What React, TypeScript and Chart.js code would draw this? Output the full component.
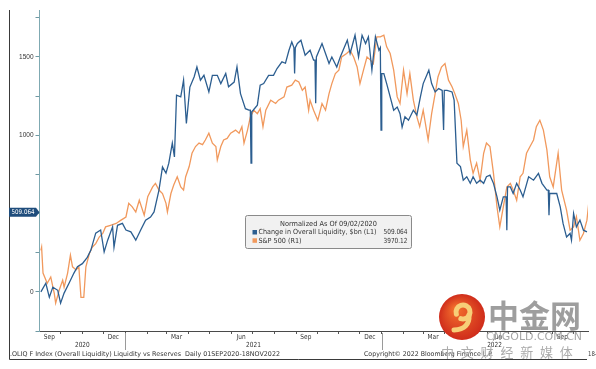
import React, { useEffect, useRef } from "react";
import { Chart, registerables } from "chart.js";

Chart.register(...registerables);

// ---------- data (days counted from 2020-09-01) ----------
const START = Date.UTC(2020, 8, 1);
const END_DAY = 808; // 18 Nov 2022 (series end, picture cropped before it)
const VISIBLE_END_DAY = 780.5;

const liquidityDays = [
  2, 9, 14, 19, 26, 30, 35, 42, 49, 54, 61, 68, 73, 80, 87, 92, 97, 104, 106, 111, 118, 123, 130, 137, 144,
  151, 158, 163, 170, 175, 180, 184, 189, 192, 195, 201, 205, 209, 214, 220, 224, 229, 234, 241, 246, 253,
  258, 265, 269, 277, 281, 286, 293, 298, 300, 301, 302, 304, 310, 314, 319, 326, 333, 338, 345, 350, 355,
  359, 362, 363, 364, 367, 372, 378, 385, 390, 392, 393, 394, 402, 407, 412, 416, 423, 428, 438, 442, 449,
  454, 459, 464, 468, 473, 478, 483, 485, 486, 487, 490, 494, 499, 504, 509, 513, 516, 520, 525, 532, 537,
  542, 546, 554, 558, 563, 568, 573, 574, 575, 576, 580, 587, 590, 594, 599, 603, 608, 613, 617, 622, 627,
  632, 636, 641, 646, 651, 655, 660, 664, 665, 666, 670, 674, 679, 684, 688, 696, 703, 710, 715, 722, 724,
  725, 726, 729, 736, 741, 745, 750, 755, 757, 760, 764, 769, 774, 779,
];
const liquidityValues = [
  0, 55, -35, 30, 10, -72, -8, 55, 120, 160, 180, 220, 265, 375, 395, 255, 330, 415, 285, 425, 437, 395, 383,
  330, 395, 458, 478, 510, 650, 797, 758, 822, 950, 862, 1256, 1245, 1352, 1075, 1308, 1372, 1436, 1352, 1383,
  1277, 1383, 1383, 1330, 1394, 1310, 1340, 1436, 1266, 1170, 1160, 1160, 822, 1150, 1160, 1192, 1320, 1330,
  1383, 1383, 1426, 1469, 1460, 1543, 1596, 1560, 1394, 1560, 1586, 1607, 1511, 1543, 1480, 1480, 1205, 1500,
  1586, 1522, 1458, 1500, 1436, 1500, 1607, 1522, 1639, 1500, 1639, 1586, 1629, 1416, 1629, 1543, 1560, 1033,
  1394, 1394, 1330, 1245, 1160, 1180, 1138, 1052, 1118, 1096, 1160, 1128, 1245, 1330, 1416, 1330, 1277, 1298,
  1287, 1287, 1033, 1287, 1287, 1277, 1224, 822, 800, 713, 735, 693, 735, 693, 713, 693, 735, 745, 693, 607,
  522, 607, 607, 394, 670, 670, 628, 693, 650, 607, 735, 713, 756, 693, 650, 650, 490, 628, 628, 628, 543,
  437, 350, 373, 330, 500, 415, 458, 394, 383,
];

const spxDays = [
  2, 3, 5, 11, 16, 21, 23, 28, 33, 35, 40, 44, 47, 52, 56, 59, 63, 66, 71, 75, 80, 85, 90, 94, 101, 109, 116,
  123, 127, 132, 137, 142, 149, 154, 161, 165, 170, 175, 180, 182, 187, 191, 196, 201, 205, 208, 213, 217,
  222, 227, 232, 236, 241, 246, 251, 253, 258, 262, 267, 272, 279, 284, 288, 291, 296, 300, 305, 310, 314,
  318, 322, 329, 336, 340, 348, 352, 359, 364, 369, 374, 378, 383, 385, 390, 396, 402, 407, 412, 416, 421,
  426, 430, 437, 442, 447, 452, 456, 461, 466, 471, 475, 480, 485, 490, 494, 499, 504, 509, 513, 518, 523,
  527, 532, 537, 541, 546, 553, 558, 563, 567, 572, 577, 582, 587, 591, 596, 600, 603, 608, 613, 617, 622,
  627, 632, 636, 641, 646, 651, 655, 660, 665, 670, 674, 679, 684, 688, 693, 698, 703, 707, 712, 717, 722,
  726, 731, 738, 743, 750, 755, 760, 764, 769, 774, 779, 782,
];
const spxValues = [
  265, 285, 120, 55, 95, -10, -72, 10, 75, 30, 120, 235, 160, 140, 160, -35, -35, 160, 245, 285, 308, 350,
  373, 415, 425, 437, 458, 478, 565, 543, 510, 585, 490, 607, 670, 693, 650, 628, 565, 510, 628, 682, 735,
  670, 650, 735, 800, 885, 928, 950, 940, 970, 1013, 950, 928, 843, 928, 970, 980, 1013, 1033, 1013, 1055,
  950, 1033, 1117, 1160, 1138, 1170, 1055, 1160, 1224, 1203, 1224, 1245, 1308, 1320, 1352, 1340, 1287, 1308,
  1160, 1224, 1160, 1096, 1203, 1160, 1266, 1330, 1394, 1416, 1500, 1522, 1543, 1500, 1436, 1330, 1416, 1500,
  1480, 1458, 1629, 1629, 1639, 1565, 1522, 1416, 1245, 1203, 1416, 1266, 1394, 1224, 1117, 1055, 1160, 970,
  1138, 1266, 1372, 1436, 1458, 1352, 1310, 1266, 1203, 1096, 928, 1033, 843, 757, 822, 713, 885, 950, 928,
  757, 543, 415, 543, 670, 693, 650, 585, 735, 757, 885, 928, 970, 1055, 1096, 1033, 907, 735, 670, 885, 650,
  522, 394, 415, 480, 330, 373, 458, 585,
];

const yTickValues = [-250, 0, 250, 500, 750, 1000, 1250, 1500, 1750];
const yLabelValues = [0, 500, 1000, 1500];
const monthNames = ["Jan", "Feb", "Mar", "Apr", "May", "Jun", "Jul", "Aug", "Sep", "Oct", "Nov", "Dec"];
const labelledMonths = [2, 5, 8, 11]; // Mar, Jun, Sep, Dec
const years = [2020, 2021, 2022];

const lastLiquidity = 509.064;
const lastLiquidityText = "509.064";
const lastSpxText = "3970.12";
const legendTitle = "Normalized As Of 09/02/2020";
const seriesNames = ["Change in Overall Liquidity, $bn (L1)", "S&P 500 (R1)"];
const footerLeft = ".OLIQ F Index (Overall Liquidity) Liquidity vs Reserves  Daily 01SEP2020-18NOV2022";
const footerRight = "Copyright\u00A9 2022 Bloomberg Finance L.P.";
const footerCut = "18-";
const watermarkName = "中金网";
const watermarkUrl = "CNGOLD.COM.CN";
const watermarkSlogan = ["中", "文", "财", "经", "新", "媒", "体"];

const BLUE = "#2c5e90";
const ORANGE = "#f1995d";
const TEXT = "#333333";
const FONT = "'DejaVu Sans'";

const dayOf = (y: number, m: number, d: number) => (Date.UTC(y, m, d) - START) / 86400000;

const monthStartDays: number[] = [];
for (let y = 2020; y <= 2022; y++) {
  for (let m = 0; m < 12; m++) {
    const d = dayOf(y, m, 1);
    if (d > 0 && d < VISIBLE_END_DAY) monthStartDays.push(d);
  }
}

function sqText(ctx: CanvasRenderingContext2D, text: string, x: number, y: number, align: CanvasTextAlign, sx: number) {
  ctx.save();
  ctx.translate(x, y);
  ctx.scale(sx, 1);
  ctx.textAlign = align;
  ctx.fillText(text, 0, 0);
  ctx.restore();
}
function fitText(ctx: CanvasRenderingContext2D, text: string, x: number, y: number, align: CanvasTextAlign, width: number) {
  const w = ctx.measureText(text).width;
  sqText(ctx, text, x, y, align, width / w);
}

const overlay = {
  id: "overlay",
  afterDraw(chart: any) {
    const ctx: CanvasRenderingContext2D = chart.ctx;
    const xs = chart.scales.x;
    const ys = chart.scales.y;
    const ca = chart.chartArea;
    ctx.save();

    // outer frame (left + bottom)
    ctx.strokeStyle = "#3a3a3a";
    ctx.lineWidth = 1;
    ctx.beginPath();
    ctx.moveTo(9.5, 10);
    ctx.lineTo(9.5, 359.5);
    ctx.lineTo(587, 359.5);
    ctx.stroke();

    // month labels (mid-month)
    ctx.fillStyle = TEXT;
    ctx.textBaseline = "middle";
    ctx.font = `7px ${FONT}`;
    for (const y of years) {
      for (const m of labelledMonths) {
        const d = dayOf(y, m, 15);
        if (d < 0 || d > VISIBLE_END_DAY) continue;
        sqText(ctx, monthNames[m], xs.getPixelForValue(d), 337.5, "center", 0.83);
      }
    }
    // year labels and separators
    for (const y of years) {
      const a = Math.max(0, dayOf(y, 0, 1));
      const b = Math.min(END_DAY, dayOf(y + 1, 0, 1));
      const cx = (xs.getPixelForValue(a) + xs.getPixelForValue(b)) / 2;
      sqText(ctx, String(y), cx, 345.5, "center", 0.83);
      if (y > 2020) {
        const px = Math.round(xs.getPixelForValue(dayOf(y, 0, 1))) + 0.5;
        ctx.strokeStyle = "#9a9a9a";
        ctx.beginPath();
        ctx.moveTo(px, 333);
        ctx.lineTo(px, 350);
        ctx.stroke();
      }
    }
    // footer
    ctx.font = `6.5px ${FONT}`;
    fitText(ctx, footerLeft, 10, 354.5, "left", 270);
    fitText(ctx, footerRight, 364, 354.5, "left", 129);
    sqText(ctx, footerCut, 588, 354.5, "left", 0.83);

    // last-value tag on left axis
    const ty = ys.getPixelForValue(lastLiquidity);
    ctx.fillStyle = "#1f4d7c";
    ctx.beginPath();
    ctx.moveTo(9, ty - 4.5);
    ctx.lineTo(36, ty - 4.5);
    ctx.lineTo(39.5, ty);
    ctx.lineTo(36, ty + 4.5);
    ctx.lineTo(9, ty + 4.5);
    ctx.closePath();
    ctx.fill();
    ctx.fillStyle = "#ffffff";
    ctx.font = `6.5px ${FONT}`;
    fitText(ctx, lastLiquidityText, 23, ty + 0.3, "center", 23);

    // legend box
    const lx = 245.5, ly = 215.5, lw = 166, lh = 33;
    ctx.fillStyle = "#f1f1f1";
    ctx.strokeStyle = "#8a8a8a";
    ctx.beginPath();
    ctx.roundRect(lx, ly, lw, lh, 2);
    ctx.fill();
    ctx.stroke();
    ctx.fillStyle = TEXT;
    ctx.font = `7px ${FONT}`;
    fitText(ctx, legendTitle, 328.5, 224, "center", 97);
    const rows = [
      { color: BLUE, name: seriesNames[0], value: lastLiquidityText, y: 232.5, w: 118 },
      { color: ORANGE, name: seriesNames[1], value: lastSpxText, y: 240.8, w: 43 },
    ];
    for (const r of rows) {
      ctx.fillStyle = r.color;
      ctx.fillRect(252.5, r.y - 2.5, 4.5, 4.5);
      ctx.fillStyle = TEXT;
      fitText(ctx, r.name, 258.5, r.y, "left", r.w);
      fitText(ctx, r.value, 407.5, r.y, "right", 24);
    }

    // watermark
    const cx = 462, cy = 317, rr = 23;
    const g = ctx.createRadialGradient(cx - 6, cy - 8, 3, cx, cy, rr);
    g.addColorStop(0, "#f06a2c");
    g.addColorStop(1, "#cf2c1b");
    ctx.fillStyle = g;
    ctx.beginPath();
    ctx.arc(cx, cy, rr, 0, Math.PI * 2);
    ctx.fill();
    ctx.strokeStyle = "#f7cf78";
    ctx.lineCap = "round";
    ctx.lineWidth = 5;
    ctx.beginPath();
    ctx.arc(cx + 1, cy - 5, 7, Math.PI * 0.9, Math.PI * 2.6);
    ctx.stroke();
    ctx.beginPath();
    ctx.moveTo(cx + 7, cy - 2);
    ctx.quadraticCurveTo(cx + 8, cy + 12, cx - 8, cy + 13);
    ctx.stroke();
    ctx.fillStyle = "#9e9e9e";
    ctx.textBaseline = "middle";
    ctx.textAlign = "left";
    ctx.font = `bold 31px 'Noto Sans CJK SC'`;
    ctx.fillText(watermarkName, 488, 315);
    ctx.fillStyle = "#a6a6a6";
    ctx.font = `11px ${FONT}`;
    fitText(ctx, watermarkUrl, 534, 337.5, "center", 96);
    ctx.fillStyle = "#acacac";
    ctx.font = `13px 'Noto Sans CJK SC'`;
    watermarkSlogan.forEach((c, i) => {
      ctx.textAlign = "center";
      ctx.fillText(c, 447.5 + i * 19.8, 352.5);
    });

    ctx.restore();
  },
};

export default function App() {
  const ref = useRef<HTMLCanvasElement | null>(null);
  useEffect(() => {
    if (!ref.current) return;
    Chart.defaults.font.family = FONT;
    const chart = new Chart(ref.current, {
      type: "line",
      data: {
        datasets: [
          {
            label: seriesNames[0],
            data: liquidityDays.map((d, i) => ({ x: d, y: liquidityValues[i] })),
            borderColor: BLUE,
            borderWidth: 1.3,
            pointRadius: 0,
            tension: 0,
          },
          {
            label: seriesNames[1],
            data: spxDays.map((d, i) => ({ x: d, y: spxValues[i] })),
            borderColor: ORANGE,
            borderWidth: 1.3,
            pointRadius: 0,
            tension: 0,
          },
        ],
      },
      options: {
        animation: false,
        responsive: false,
        events: [],
        layout: { padding: { left: 8, top: 10, right: 8, bottom: 0 } },
        plugins: { legend: { display: false }, tooltip: { enabled: false } },
        scales: {
          x: {
            type: "linear",
            min: 0,
            max: VISIBLE_END_DAY,
            afterBuildTicks: (s: any) => {
              s.ticks = monthStartDays.map((v) => ({ value: v }));
            },
            afterFit: (s: any) => {
              s.height = 38;
            },
            ticks: { callback: () => "", autoSkip: false, maxRotation: 0 },
            grid: { drawOnChartArea: false, drawTicks: true, tickLength: 3, color: "#555555" },
            border: { color: "#4a4a4a" },
          },
          y: {
            type: "linear",
            min: -250,
            max: 1800,
            afterBuildTicks: (s: any) => {
              s.ticks = yTickValues.map((v) => ({ value: v }));
            },
            afterFit: (s: any) => {
              s.width = 31.5;
            },
            ticks: {
              callback: (v: any) => (yLabelValues.includes(Number(v)) ? String(v) : ""),
              font: { family: "'Liberation Sans'", size: 6.5 },
              color: TEXT,
              padding: 2,
              autoSkip: false,
            },
            grid: { drawOnChartArea: false, drawTicks: true, tickLength: 4, color: "#6f99a3" },
            border: { color: "#7fa9b2" },
          },
        },
      },
      plugins: [overlay],
    });
    return () => chart.destroy();
  }, []);
  return (
    <div style={{ position: "fixed", left: 0, top: 0, width: 596, height: 369, background: "#fff" }}>
      <canvas ref={ref} width={596} height={369} style={{ width: 596, height: 369, display: "block" }} />
    </div>
  );
}
